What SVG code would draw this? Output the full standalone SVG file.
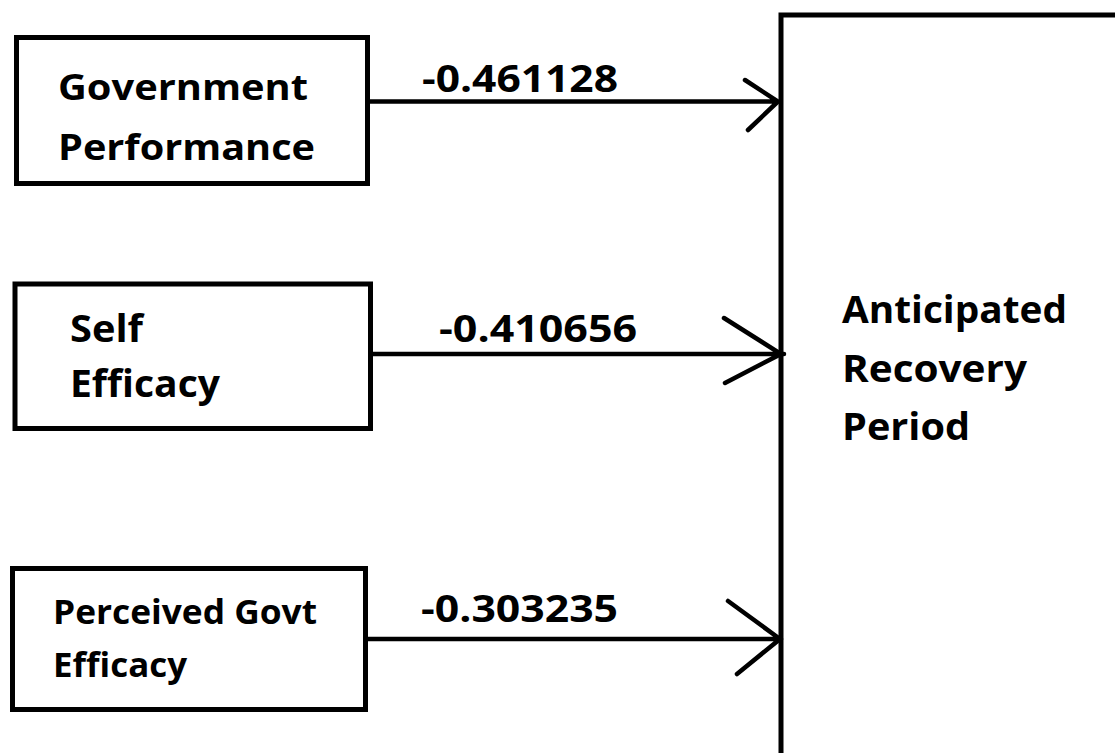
<svg xmlns="http://www.w3.org/2000/svg" width="1115" height="753" viewBox="0 0 1115 753">
<style>
.box{fill:#fff;stroke:#000;stroke-width:5}
.t{font-family:"Open Sans","Liberation Sans",sans-serif;font-weight:700;fill:#000}
.edge{stroke:#000;stroke-width:4.5;fill:none;stroke-linecap:round}
</style>
<rect width="1115" height="753" fill="#fff"/>
<g id="outcome">
<rect class="box" x="781" y="15" width="400" height="800"/>
<text class="t" font-size="38" x="842" y="323" textLength="225" lengthAdjust="spacingAndGlyphs">Anticipated</text>
<text class="t" font-size="38" x="842" y="382" textLength="185" lengthAdjust="spacingAndGlyphs">Recovery</text>
<text class="t" font-size="38" x="842" y="440" textLength="128" lengthAdjust="spacingAndGlyphs">Period</text>
</g>
<g id="gov-perf">
<rect class="box" x="16.5" y="37.5" width="351" height="146"/>
<text class="t" font-size="36" x="58" y="100" textLength="250" lengthAdjust="spacingAndGlyphs">Government</text>
<text class="t" font-size="36" x="58" y="160" textLength="257" lengthAdjust="spacingAndGlyphs">Performance</text>
</g>
<g id="self-eff">
<rect class="box" x="15" y="284" width="355.5" height="144.5"/>
<text class="t" font-size="38" x="70" y="342" textLength="73" lengthAdjust="spacingAndGlyphs">Self</text>
<text class="t" font-size="38" x="70" y="397" textLength="150" lengthAdjust="spacingAndGlyphs">Efficacy</text>
</g>
<g id="govt-eff">
<rect class="box" x="12.5" y="568.5" width="353" height="141"/>
<text class="t" font-size="34" x="53" y="624" textLength="264" lengthAdjust="spacingAndGlyphs">Perceived Govt</text>
<text class="t" font-size="34" x="53" y="677" textLength="134" lengthAdjust="spacingAndGlyphs">Efficacy</text>
</g>
<g id="connectors">
<path class="edge" d="M370 101.5 H778 M745 80 L778 101.5 L748 130"/>
<path class="edge" d="M372 354 H784 M724 318 L781 354 L725 383"/>
<path class="edge" d="M366 639 H780 M728 601 L780 639 L737 674"/>
<text class="t" font-size="37" x="422" y="92" textLength="196" lengthAdjust="spacingAndGlyphs">-0.461128</text>
<text class="t" font-size="37" x="439" y="342" textLength="198" lengthAdjust="spacingAndGlyphs">-0.410656</text>
<text class="t" font-size="37" x="421" y="622" textLength="197" lengthAdjust="spacingAndGlyphs">-0.303235</text>
</g>
</svg>
